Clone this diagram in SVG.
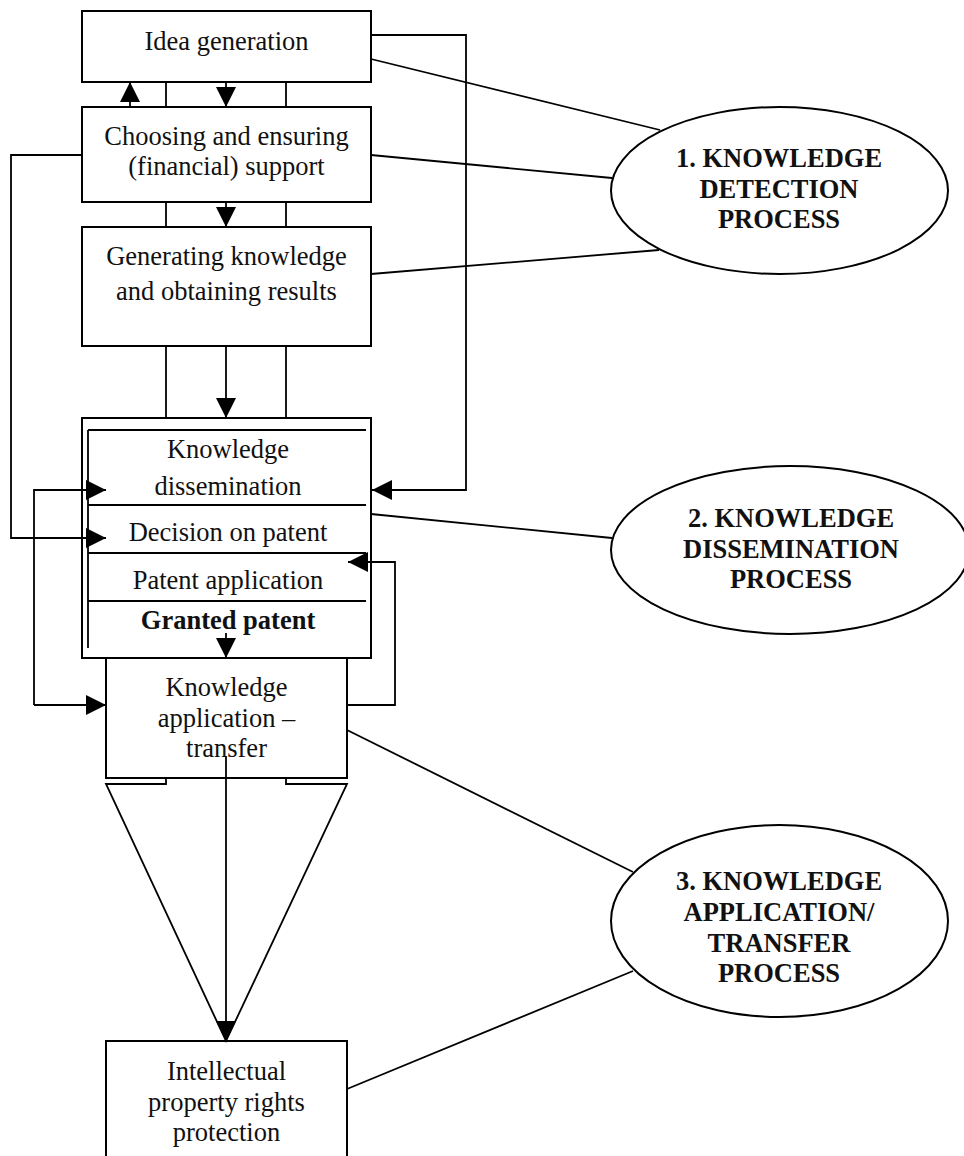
<svg xmlns="http://www.w3.org/2000/svg" width="964" height="1156" viewBox="0 0 964 1156">
<style>
  .box { fill: #fff; stroke: #000; stroke-width: 2; }
  .ell { fill: #fff; stroke: #000; stroke-width: 2; }
  .ln { fill: none; stroke: #000; stroke-width: 1.8; }
  .arr { fill: none; stroke: #000; stroke-width: 1.8; marker-end: url(#ah); }
  .t { font-family: "Liberation Serif", "Times New Roman", serif; font-size: 26.5px; fill: #111; text-anchor: middle; }
  .b { font-weight: bold; }
</style>
<defs>
  <marker id="ah" markerUnits="userSpaceOnUse" markerWidth="20" markerHeight="20" refX="20" refY="10" orient="auto">
    <path d="M0,0 L20,10 L0,20 z" fill="#000"/>
  </marker>
</defs>
<rect width="964" height="1156" fill="#fff"/>

<g id="idea">
  <rect class="box" x="82" y="11" width="289" height="71"/>
  <text class="t" x="226.5" y="50">Idea generation</text>
</g>

<g id="choosing">
  <rect class="box" x="82" y="107" width="289" height="95"/>
  <text class="t" x="226.5" y="145">Choosing and ensuring</text>
  <text class="t" x="226.5" y="175">(financial) support</text>
</g>

<g id="generating">
  <rect class="box" x="82" y="227" width="289" height="119"/>
  <text class="t" x="226.5" y="265">Generating knowledge</text>
  <text class="t" x="226.5" y="300">and obtaining results</text>
</g>

<g id="dissemination">
  <rect class="box" x="82" y="418" width="289" height="240"/>
  <line class="ln" x1="88" y1="430" x2="88" y2="648"/>
  <line class="ln" x1="88" y1="430" x2="366" y2="430"/>
  <line class="ln" x1="88" y1="505" x2="366" y2="505"/>
  <line class="ln" x1="88" y1="553" x2="366" y2="553"/>
  <line class="ln" x1="88" y1="601" x2="366" y2="601"/>
  <text class="t" x="228" y="458">Knowledge</text>
  <text class="t" x="228" y="495">dissemination</text>
  <text class="t" x="228" y="541">Decision on patent</text>
  <text class="t" x="228" y="589">Patent application</text>
  <text class="t b" x="228" y="629">Granted patent</text>
</g>

<g id="application">
  <rect class="box" x="106" y="658" width="241" height="120"/>
  <text class="t" x="226.5" y="696">Knowledge</text>
  <text class="t" x="226.5" y="727">application –</text>
  <text class="t" x="226.5" y="757">transfer</text>
</g>

<g id="ipr">
  <rect class="box" x="106" y="1041" width="241" height="130"/>
  <text class="t" x="226.5" y="1080">Intellectual</text>
  <text class="t" x="226.5" y="1111">property rights</text>
  <text class="t" x="226.5" y="1141">protection</text>
</g>

<g id="process1">
  <ellipse class="ell" cx="779.5" cy="190.5" rx="168.5" ry="83.5"/>
  <text class="t b" x="779" y="167">1. KNOWLEDGE</text>
  <text class="t b" x="779" y="198">DETECTION</text>
  <text class="t b" x="779" y="228">PROCESS</text>
</g>

<g id="process2">
  <ellipse class="ell" cx="790" cy="550" rx="179" ry="84"/>
  <text class="t b" x="791" y="527">2. KNOWLEDGE</text>
  <text class="t b" x="791" y="558">DISSEMINATION</text>
  <text class="t b" x="791" y="588">PROCESS</text>
</g>

<g id="process3">
  <ellipse class="ell" cx="779.5" cy="921" rx="168.5" ry="96"/>
  <text class="t b" x="779" y="890">3. KNOWLEDGE</text>
  <text class="t b" x="779" y="921">APPLICATION/</text>
  <text class="t b" x="779" y="952">TRANSFER</text>
  <text class="t b" x="779" y="982">PROCESS</text>
</g>

<g id="connectors">
  <!-- between idea and choosing -->
  <line class="ln" x1="166" y1="82" x2="166" y2="107"/>
  <line class="ln" x1="286" y1="82" x2="286" y2="107"/>
  <line class="arr" x1="226" y1="82" x2="226" y2="107"/>
  <line class="arr" x1="130" y1="107" x2="130" y2="82"/>
  <!-- between choosing and generating -->
  <line class="ln" x1="166" y1="202" x2="166" y2="227"/>
  <line class="ln" x1="286" y1="202" x2="286" y2="227"/>
  <line class="arr" x1="226" y1="202" x2="226" y2="227"/>
  <!-- between generating and dissemination -->
  <line class="ln" x1="166" y1="346" x2="166" y2="418"/>
  <line class="ln" x1="286" y1="346" x2="286" y2="418"/>
  <line class="arr" x1="226" y1="346" x2="226" y2="418"/>
  <!-- left loops -->
  <polyline class="arr" points="82,155 11,155 11,538 106,538"/>
  <polyline class="arr" points="34,705 34,490 106,490"/>
  <line class="arr" x1="34" y1="705" x2="106" y2="705"/>
  <!-- right loops -->
  <polyline class="arr" points="371,35 466,35 466,490 372,490"/>
  <polyline class="arr" points="347,705 395,705 395,562 348,562"/>
  <!-- granted patent to application -->
  <line class="arr" x1="226" y1="633" x2="226" y2="658"/>
  <!-- funnel -->
  <polyline class="ln" points="166,778 166,784 106,784 226,1041 347,784 286,784 286,778"/>
  <line class="arr" x1="226" y1="756" x2="226" y2="1041"/>
  <!-- lines to ellipses -->
  <line class="ln" x1="371" y1="59" x2="660" y2="130"/>
  <line class="ln" x1="371" y1="155" x2="612" y2="178"/>
  <line class="ln" x1="371" y1="274" x2="659" y2="250"/>
  <line class="ln" x1="371" y1="514" x2="612" y2="538"/>
  <line class="ln" x1="347" y1="730" x2="633" y2="872"/>
  <line class="ln" x1="347" y1="1089" x2="633" y2="971"/>
</g>
</svg>
